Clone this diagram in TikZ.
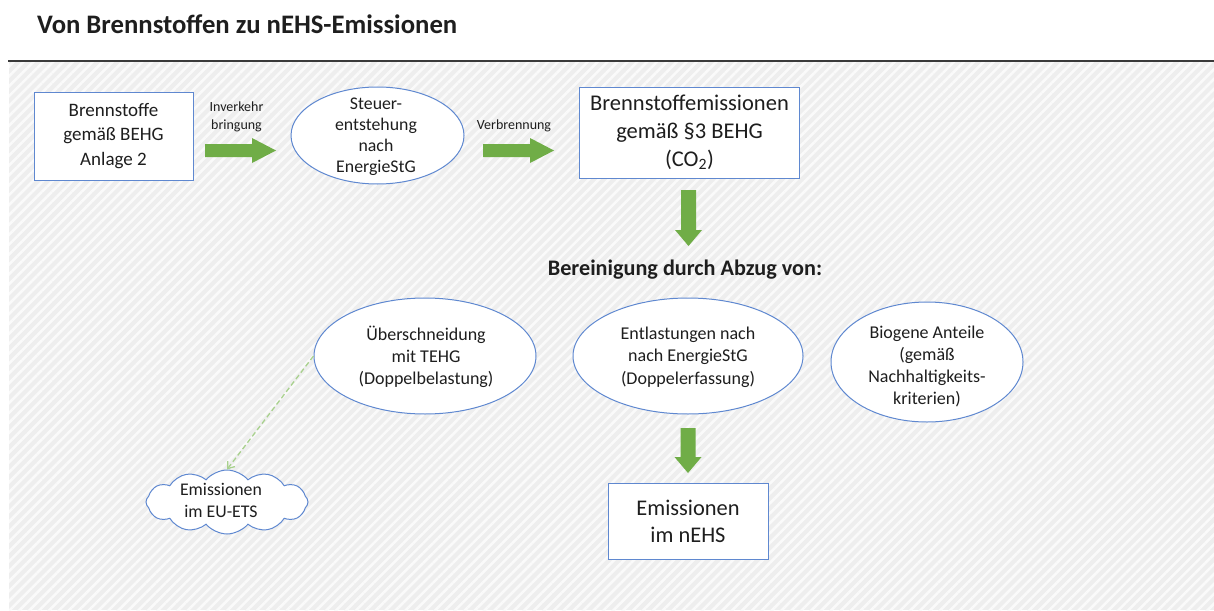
\documentclass[tikz,border=0pt]{standalone}
\usepackage{fontspec}
\setmainfont{Carlito}
\usetikzlibrary{shapes.geometric,shapes.symbols,arrows.meta,patterns.meta}
\definecolor{ggreen}{HTML}{70AD47}
\definecolor{lgreen}{HTML}{A9D18E}
\definecolor{bblue}{HTML}{5F88D0}
\definecolor{txt}{HTML}{1E1E1E}
\definecolor{bg}{HTML}{EEEEEE}
\definecolor{rule}{HTML}{3A3A3A}
\tikzset{
  x=1pt, y=-1pt,
  box/.style={draw=bblue, line width=1pt, fill=white, rectangle, inner sep=0pt},
  ell/.style={draw=bblue, line width=1pt, fill=white, ellipse, inner sep=0pt},
  cloudy/.style={draw=bblue, line width=1pt, fill=white, cloud, cloud puffs=12, cloud puff arc=100, cloud ignores aspect, inner sep=0pt},
  lbl/.style={text=txt, align=center, inner sep=0pt},
  rblock/.pic={\fill[ggreen] (0,-6.5) -- (47,-6.5) -- (47,-12.5) -- (71,0) -- (47,12.5) -- (47,6.5) -- (0,6.5) -- cycle;},
  dblock/.pic={\fill[ggreen] (-7.5,0) -- (-7.5,#1) -- (-13.5,#1) -- (0,#1+16) -- (13.5,#1) -- (7.5,#1) -- (7.5,0) -- cycle;},
}
\begin{document}
\begin{tikzpicture}
\useasboundingbox (0,0) rectangle (1214,610);
% background
\fill[white] (0,0) rectangle (1214,610);
\fill[bg] (9,62) rectangle (1214,610);
\fill[pattern={Lines[angle=45,distance=7pt,line width=2.6pt]}, pattern color=white!70!bg] (9,62) rectangle (1214,610);
\draw[rule, line width=2.6pt] (8,61) -- (1214,61);
% title
\node[lbl, anchor=base west, font=\fontsize{26.7}{30}\selectfont\bfseries] (title) at (37,33.5) {Von Brennstoffen zu nEHS-Emissionen};
% top row
\node[box, minimum width=159, minimum height=88] (b1) at (113.5,136) {};
\node[lbl, font=\fontsize{19}{24.5}\selectfont] (b1t) at (b1) {Brennstoffe\\gemäß BEHG\\Anlage 2};
\node[ell, minimum width=173, minimum height=97] (e1) at (377.5,135.5) {};
\node[lbl, font=\fontsize{17.8}{21}\selectfont] (e1t) at (376,136.5) {Steuer-\\entstehung\\nach\\EnergieStG};
\node[box, minimum width=220, minimum height=91] (b3) at (689.5,132.5) {};
\node[lbl, font=\fontsize{22.5}{28}\selectfont] (b3t) at (b3) {Brennstoffemissionen\\gemäß §3 BEHG\\(CO\textsubscript{2})};
\pic at (205,150.5) {rblock};
\pic at (483,150.5) {rblock};
\node[lbl, font=\fontsize{14}{18}\selectfont] (l1) at (236.5,117) {Inverkehr\\bringung};
\node[lbl, font=\fontsize{14}{18}\selectfont] (l2) at (514,126) {Verbrennung};
\pic at (688.5,190) {dblock=40};
% middle
\node[lbl, font=\fontsize{22.2}{26}\selectfont\bfseries] (ber) at (685,270) {Bereinigung durch Abzug von:};
\node[ell, minimum width=222, minimum height=116] (eU) at (425,356) {};
\node[lbl, font=\fontsize{18}{22}\selectfont] (eUt) at (426,357) {Überschneidung\\mit TEHG\\(Doppelbelastung)};
\node[ell, minimum width=230, minimum height=116] (eE) at (688,356) {};
\node[lbl, font=\fontsize{18}{22.5}\selectfont] (eEt) at (688,357) {Entlastungen nach\\nach EnergieStG\\(Doppelerfassung)};
\node[ell, minimum width=192, minimum height=120] (eB) at (927,362) {};
\node[lbl, font=\fontsize{18}{22}\selectfont] (eBt) at (927,366) {Biogene Anteile\\(gemäß\\Nachhaltigkeits-\\kriterien)};
\pic at (688,428) {dblock=29};
% bottom
\node[box, minimum width=160, minimum height=76] (bE) at (688,521) {};
\node[lbl, font=\fontsize{22.4}{27}\selectfont] (bEt) at (bE) {Emissionen\\im nEHS};
\node[cloudy, minimum width=162, minimum height=64] (cl) at (227,502) {};
\node[lbl, font=\fontsize{17.8}{22}\selectfont] (clt) at (221,500) {Emissionen\\im EU-ETS};
\draw[lgreen, line width=1.3pt, dash pattern=on 5pt off 3pt, -{Straight Barb[length=6pt,width=9pt]}] (eU.west) -- (cl.north);
\end{tikzpicture}
\end{document}
